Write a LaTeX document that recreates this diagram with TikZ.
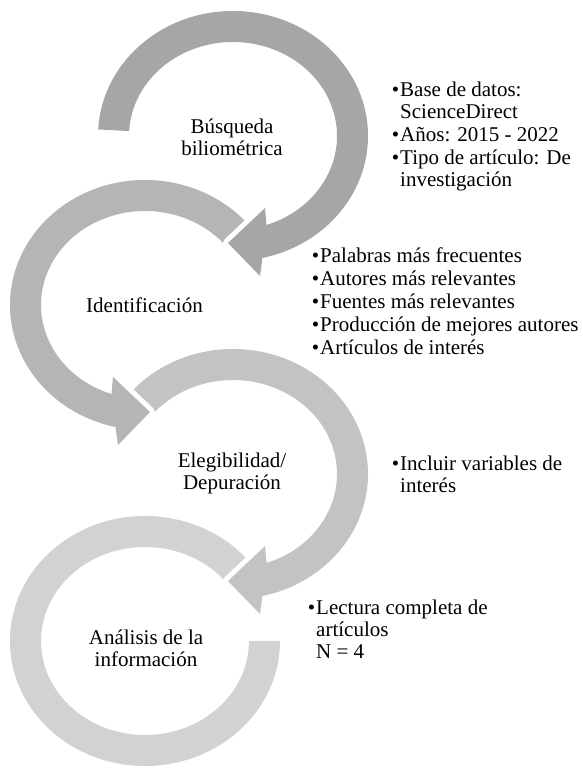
\documentclass[tikz,border=0pt]{standalone}
\usepackage{fontspec}
\setmainfont{Liberation Serif}
\usepackage{tikz}
\usetikzlibrary{positioning}
\definecolor{ringA}{RGB}{166,166,166}
\definecolor{ringB}{RGB}{181,181,181}
\definecolor{ringC}{RGB}{195,195,195}
\definecolor{ringD}{RGB}{210,210,210}
\newcommand{\txtfont}{\fontsize{21}{22}\selectfont\lineskiplimit=-50pt\relax}
\newcommand{\dotmark}{\llap{•\hspace{1pt}}}
\tikzstyle{ring}  = [preaction={draw=white, line width=10pt, line join=round}]
\tikzstyle{stage} = [align=center, font=\txtfont, inner sep=0pt]
\tikzstyle{items} = [align=left, font=\txtfont, inner sep=0pt, anchor=north west]

\begin{document}
\begin{tikzpicture}[x=1pt,y=1pt]
        \useasboundingbox (0,0) rectangle (582,768);
        % centres of the four rings
        \coordinate (c1) at (233,632);
        \coordinate (c2) at (145,463);
        \coordinate (c3) at (233,294);
        \coordinate (c4) at (145,127);

        % last ring first, so each arrow head lies over the next ring
        \begin{scope}[shift={(c4)}]
        \fill[ringD, ring] (36:135 and 125) arc[start angle=36, end angle=360, x radius=135, y radius=125]
            -- (0:104 and 94) arc[start angle=360, end angle=36, x radius=104, y radius=94] -- cycle;
        \end{scope}
        \begin{scope}[shift={(c3)}]
        \fill[ringC, ring] (144:135 and 125) arc[start angle=144, end angle=-77.4, x radius=135, y radius=125]
            -- (27,-140) -- (-5,-107) -- (32,-72)
            -- (-71.2:104 and 94) arc[start angle=-71.2, end angle=144, x radius=104, y radius=94] -- cycle;
        \end{scope}
        \begin{scope}[shift={(c2)}]
        \fill[ringB, ring] (36:135 and 125) arc[start angle=36, end angle=257.4, x radius=135, y radius=125]
            -- (-27,-140) -- (5,-107) -- (-32,-72)
            -- (251.2:104 and 94) arc[start angle=251.2, end angle=36, x radius=104, y radius=94] -- cycle;
        \end{scope}
        \begin{scope}[shift={(c1)}]
        \fill[ringA, ring] (177:135 and 125) arc[start angle=177, end angle=-77.4, x radius=135, y radius=125]
            -- (27,-140) -- (-5,-107) -- (32,-72)
            -- (-71.2:104 and 94) arc[start angle=-71.2, end angle=177, x radius=104, y radius=94] -- cycle;
        \end{scope}

        \node[stage] (s1) at (232,631) {Búsqueda\\biliométrica};
        \node[stage] (s2) at (144.5,463) {Identificación};
        \node[stage] (s3) at (232,295) {Elegibilidad/\\Depuración};
        \node[stage] (s4) at (146,120) {Análisis de la\\información};

        \node[items] (d1) at (400,686) {\dotmark Base de datos:\\ScienceDirect\\[1pt]\dotmark Años: 2015 - 2022\\[1pt]\dotmark Tipo de artículo: De\\investigación};
        \node[items] (d2) at (320,520.5) {\dotmark Palabras más frecuentes\\[1pt]\dotmark Autores más relevantes\\[1pt]\dotmark Fuentes más relevantes\\[1pt]\dotmark Producción de mejores autores\\[1pt]\dotmark Artículos de interés};
        \node[items] (d3) at (400,312.5) {\dotmark Incluir variables de\\interés};
        \node[items] (d4) at (316,168.5) {\dotmark Lectura completa de\\artículos\\N = 4};
    \end{tikzpicture}
\end{document}
